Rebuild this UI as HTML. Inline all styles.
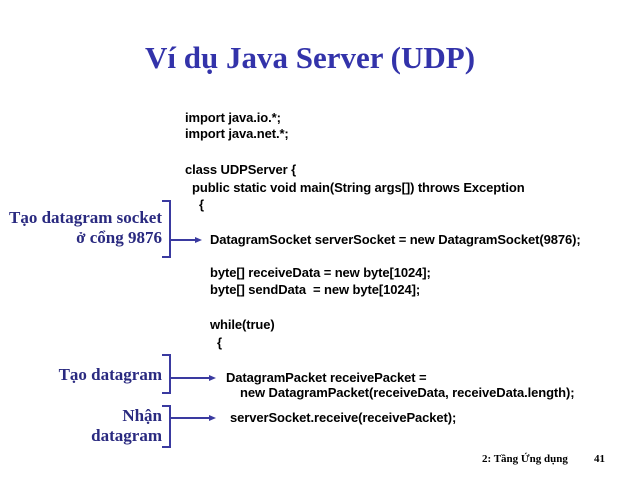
<!DOCTYPE html>
<html><head><meta charset="utf-8"><style>
body{margin:0;width:640px;height:480px;background:#fff;position:relative;overflow:hidden}
.t{position:absolute;left:0;width:620px;top:40px;text-align:center;font:bold 31px "Liberation Serif",serif;color:#3333aa;letter-spacing:0}
.c{position:absolute;font:bold 13px "Liberation Sans",sans-serif;color:#000;letter-spacing:-0.1px;white-space:pre;line-height:14px}
.l{position:absolute;font:bold 17px "Liberation Serif",serif;color:#2a2a80;text-align:right;right:478px;white-space:nowrap;line-height:20px}
.f{position:absolute;font:bold 11px "Liberation Serif",serif;color:#000}
</style></head><body>
<div class="t">Ví dụ Java Server (UDP)</div>
<div class="c" style="left:185px;top:111px">import java.io.*;</div>
<div class="c" style="left:185px;top:127px">import java.net.*;</div>
<div class="c" style="left:185px;top:163px">class UDPServer {</div>
<div class="c" style="left:185px;top:181px">  public static void main(String args[]) throws Exception</div>
<div class="c" style="left:185px;top:198px">    {</div>
<div class="c" style="left:210px;top:233px">DatagramSocket serverSocket = new DatagramSocket(9876);</div>
<div class="c" style="left:210px;top:266px">byte[] receiveData = new byte[1024];</div>
<div class="c" style="left:210px;top:283px">byte[] sendData  = new byte[1024];</div>
<div class="c" style="left:210px;top:318px">while(true)</div>
<div class="c" style="left:210px;top:336px">  {</div>
<div class="c" style="left:226px;top:371px">DatagramPacket receivePacket =</div>
<div class="c" style="left:226px;top:386px">    new DatagramPacket(receiveData, receiveData.length);</div>
<div class="c" style="left:230px;top:411px">serverSocket.receive(receivePacket);</div>
<div class="l" style="top:208px">Tạo datagram socket<br>ở cổng 9876</div>
<div class="l" style="top:365px">Tạo datagram</div>
<div class="l" style="top:406px">Nhận<br>datagram</div>
<svg width="640" height="480" style="position:absolute;left:0;top:0">
<g stroke="#3a3aa0" stroke-width="2" fill="none">
<path d="M162 201H170V257H162"/><path d="M170 240H196"/>
<path d="M162 355H170V393H162"/><path d="M170 378H210"/>
<path d="M162 406H170V447H162"/><path d="M170 418H210"/>
</g>
<g fill="#3a3aa0">
<path d="M202 240l-7-3v6z"/><path d="M216 378l-7-3v6z"/><path d="M216 418l-7-3v6z"/>
</g>
</svg>
<div class="f" style="left:482px;top:453px">2: Tầng Ứng dụng</div>
<div class="f" style="left:594px;top:453px">41</div>
</body></html>
